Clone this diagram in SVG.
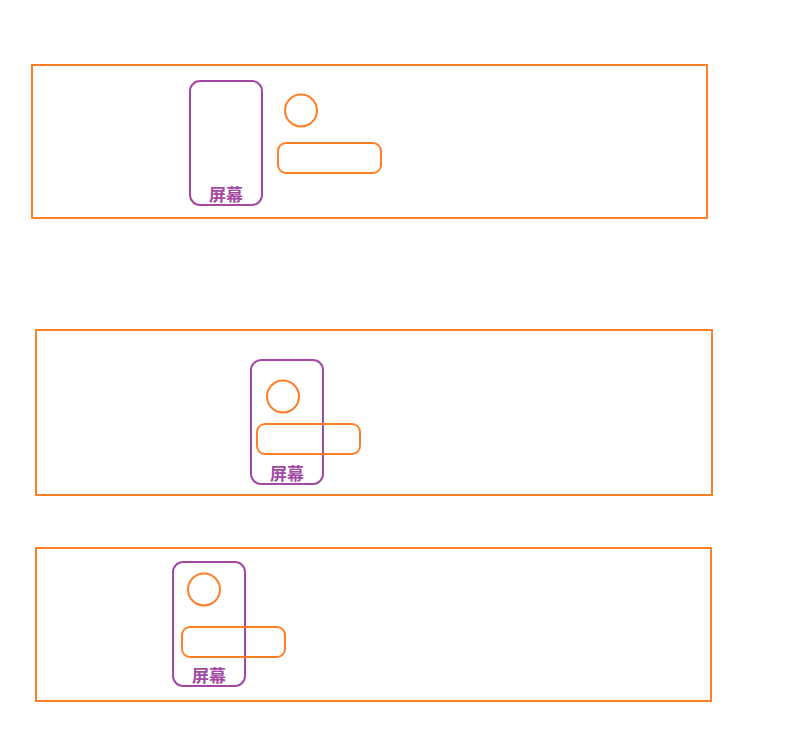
<svg xmlns="http://www.w3.org/2000/svg" width="786" height="755" viewBox="0 0 786 755">
<style>
.frame{fill:none;stroke:#FF7F27;stroke-width:2}
.phone{fill:none;stroke:#A349A4;stroke-width:2}
.cam{fill:none;stroke:#FF7F27;stroke-width:2}
.lbl{fill:#A349A4;font-family:"Noto Sans CJK SC","Noto Sans",sans-serif;font-size:17px;font-weight:bold;text-anchor:middle}
</style>
<rect width="786" height="755" fill="#fff"/>
<g id="panel1">
<rect class="frame" x="32" y="65" width="675" height="153"/>
<g id="phone1"><rect class="phone" x="190" y="81" width="72" height="124" rx="10"/><text class="lbl" x="226" y="201">屏幕</text></g>
<circle id="circle1" class="cam" cx="301" cy="110.5" r="16"/>
<rect id="pill1" class="cam" x="278" y="143" width="103" height="30" rx="8"/>
</g>
<g id="panel2">
<rect class="frame" x="36" y="330" width="676" height="165"/>
<g id="phone2"><rect class="phone" x="251" y="360" width="72" height="124" rx="10"/><text class="lbl" x="287" y="480">屏幕</text></g>
<circle id="circle2" class="cam" cx="283" cy="396.5" r="16"/>
<rect id="pill2" class="cam" x="257" y="424" width="103" height="30" rx="8"/>
</g>
<g id="panel3">
<rect class="frame" x="36" y="548" width="675" height="153"/>
<g id="phone3"><rect class="phone" x="173" y="562" width="72" height="124" rx="10"/><text class="lbl" x="209" y="682">屏幕</text></g>
<circle id="circle3" class="cam" cx="204" cy="589.5" r="16"/>
<rect id="pill3" class="cam" x="182" y="627" width="103" height="30" rx="8"/>
</g>
<g id="connectors"/>
</svg>
